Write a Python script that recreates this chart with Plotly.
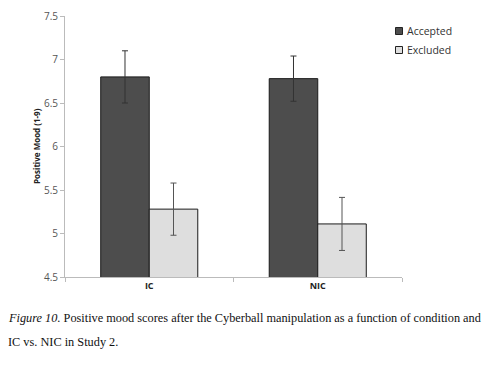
import plotly.graph_objects as go

categories = ["IC", "NIC"]
series_names = ["Accepted", "Excluded"]
accepted = [6.80, 6.78]
accepted_err = [0.30, 0.26]
excluded = [5.28, 5.11]
excluded_err = [0.30, 0.305]
colors = ["#4d4d4d", "#dedede"]

fig = go.Figure()
fig.add_bar(x=categories, y=accepted, name=series_names[0],
            marker=dict(color=colors[0], line=dict(color="#1a1a1a", width=1)),
            error_y=dict(type="data", array=accepted_err, color="#333333", thickness=1, width=3))
fig.add_bar(x=categories, y=excluded, name=series_names[1],
            marker=dict(color=colors[1], line=dict(color="#1a1a1a", width=1)),
            error_y=dict(type="data", array=excluded_err, color="#555555", thickness=1, width=3))

# plot area in screen px: x 65..402, y 16..277 (page has 8px body margin)
def px(sx):
    return (sx - 65) / 337.0

def py(sy):
    return (277 - sy) / 261.0

shapes = []
annotations = []
for i, name in enumerate(series_names):
    cy = 31 + 19 * i
    shapes.append(dict(type="rect", xref="paper", yref="paper",
                       x0=px(395.5), x1=px(402.5), y0=py(cy - 3.5), y1=py(cy + 3.5),
                       fillcolor=colors[i], line=dict(color="#222222", width=1)))
    annotations.append(dict(text=name, xref="paper", yref="paper", x=px(404.5), y=py(cy),
                            xanchor="left", yanchor="middle", showarrow=False,
                            font=dict(size=10.5, color="#333333")))

annotations += [
    dict(text="<b>Positive Mood (1-9)</b>", textangle=-90, xref="paper", yref="paper",
         x=px(29), y=0.5, showarrow=False, font=dict(size=8, color="#222222")),
    dict(text="<i>Figure 10.</i> Positive mood scores after the Cyberball manipulation as a function of condition and",
         xref="paper", yref="paper", x=px(6), y=py(318), xanchor="left", yanchor="middle",
         showarrow=False, font=dict(family="Liberation Serif", size=12.3, color="#111111")),
    dict(text="IC vs. NIC in Study 2.",
         xref="paper", yref="paper", x=px(6), y=py(342), xanchor="left", yanchor="middle",
         showarrow=False, font=dict(family="Liberation Serif", size=12.3, color="#111111")),
]

fig.update_layout(
    width=492, height=360,
    margin=dict(l=57, r=98, t=8, b=91, autoexpand=False),
    paper_bgcolor="white", plot_bgcolor="white",
    barmode="group", bargap=0.424, bargroupgap=0,
    font=dict(family="Open Sans, Liberation Sans", color="#444444", size=9),
    showlegend=False,
    xaxis=dict(showline=True, linecolor="#bbbbbb", linewidth=1,
               ticks="outside", tickson="boundaries", ticklen=4, tickcolor="#bbbbbb",
               tickfont=dict(size=9, color="#222222", family="Open Sans, Liberation Sans"),
               tickvals=categories, ticktext=["<b>" + c + "</b>" for c in categories],
               showgrid=False),
    yaxis=dict(range=[4.5, 7.5], dtick=0.5, showline=True, linecolor="#bbbbbb", linewidth=1,
               ticks="outside", ticklen=4, tickcolor="#bbbbbb", showgrid=False,
               zeroline=False, tickfont=dict(size=10, color="#555555")),
    shapes=shapes,
    annotations=annotations,
)

fig.write_html("out.html")
